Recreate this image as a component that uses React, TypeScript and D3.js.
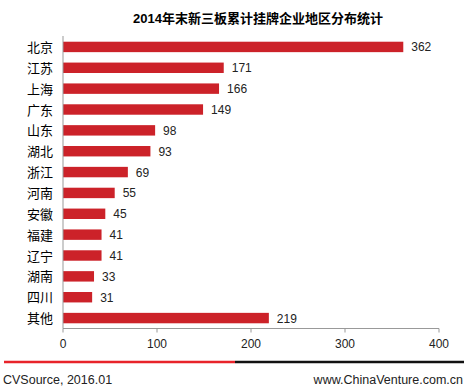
import React from "react";
import * as d3 from "d3";

const categories = ["北京", "江苏", "上海", "广东", "山东", "湖北", "浙江", "河南", "安徽", "福建", "辽宁", "湖南", "四川", "其他"];
const values = [362, 171, 166, 149, 98, 93, 69, 55, 45, 41, 41, 33, 31, 219];
const xTicks = [0, 100, 200, 300, 400];
const title = "2014年末新三板累计挂牌企业地区分布统计";
const sourceText = "CVSource, 2016.01";
const siteText = "www.ChinaVenture.com.cn";

export default function App() {
  const W = 467, H = 391;
  const x = d3.scaleLinear().domain([0, 400]).range([63, 439]);
  const y = d3.scaleBand<string>().domain(categories).range([36.5, 328.5]).paddingInner(0.5).paddingOuter(0.25);
  const axisY = 328.5;
  const font = "Arial, 'Liberation Sans', 'Noto Sans CJK SC', sans-serif";
  return (
    <svg width={W} height={H} style={{ position: "absolute", left: 0, top: 0, background: "#fff" }} fontFamily={font}>
      <rect x={0} y={0} width={W} height={H} fill="#fff" />
      <text x={258} y={23} textAnchor="middle" fontSize={13} fontWeight="bold" fill="#000">{title}</text>
      {categories.map((c, i) => (
        <g key={c}>
          <rect x={x(0)} y={y(c)!} width={x(values[i]) - x(0)} height={y.bandwidth()} fill="#CC2229" />
          <text x={x(values[i]) + 8} y={y(c)! + y.bandwidth() / 2 + 4.5} fontSize={12} fill="#222">{values[i]}</text>
          <text x={53} y={y(c)! + y.bandwidth() / 2 + 5} textAnchor="end" fontSize={13} fill="#000">{c}</text>
        </g>
      ))}
      <line x1={x(0)} x2={x(0)} y1={36} y2={axisY} stroke="#999" strokeWidth={1} />
      <line x1={x(0)} x2={x(400)} y1={axisY} y2={axisY} stroke="#999" strokeWidth={1} />
      {xTicks.map((t) => (
        <g key={t}>
          <line x1={x(t)} x2={x(t)} y1={axisY} y2={axisY + 4} stroke="#999" />
          <text x={x(t)} y={axisY + 19} textAnchor="middle" fontSize={12} fill="#222">{t}</text>
        </g>
      ))}
      <line x1={4} x2={235} y1={362} y2={362} stroke="#E8232A" strokeWidth={2.5} />
      <line x1={235} x2={464} y1={362} y2={362} stroke="#111" strokeWidth={2.5} />
      <text x={3} y={384} fontSize={12.5} fill="#222">{sourceText}</text>
      <text x={463} y={384} textAnchor="end" fontSize={12.5} fill="#222">{siteText}</text>
    </svg>
  );
}
